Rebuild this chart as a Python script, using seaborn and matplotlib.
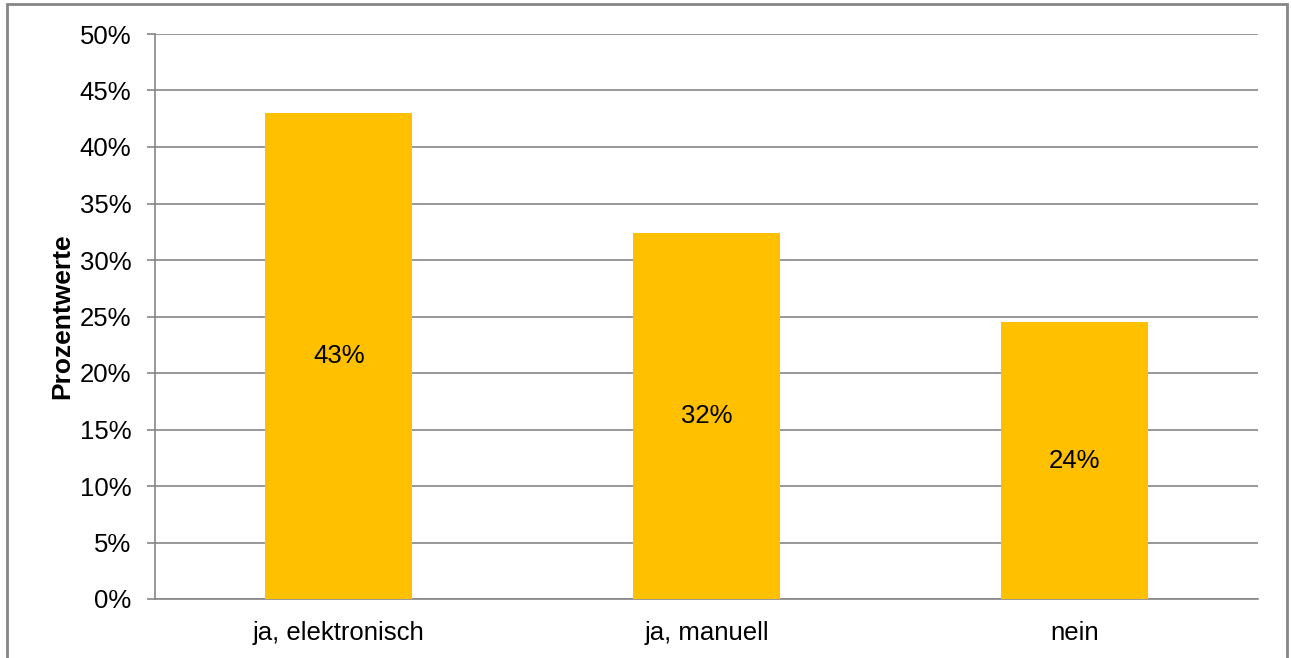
import matplotlib
matplotlib.use("Agg")
import matplotlib.pyplot as plt
import matplotlib.patches as mpatches
from matplotlib.ticker import MultipleLocator, FixedLocator, FuncFormatter
import seaborn as sns
import pandas as pd

# data
categories = ["ja, elektronisch", "ja, manuell", "nein"]
values = [43.0, 32.4, 24.5]
labels = ["43%", "32%", "24%"]

sns.set_style("white")
plt.rcParams['font.family'] = ['Liberation Sans', 'DejaVu Sans']
plt.rcParams['text.color'] = 'black'
plt.rcParams['xtick.labelcolor'] = 'black'
plt.rcParams['ytick.labelcolor'] = 'black'

df = pd.DataFrame({"Antwort": categories, "Prozent": values})

grey = "#868686"
fs = 18.5
fig = plt.figure(figsize=(12.91, 6.58), dpi=100)
ax = fig.add_axes([155 / 1291, 1 - 599 / 658, (1258 - 155) / 1291, (599 - 34) / 658])

sns.barplot(data=df, x="Antwort", y="Prozent", color="#FFC000", width=0.4,
            saturation=1, ax=ax, zorder=3, linewidth=0, edgecolor="none")

for i, txt in enumerate(labels):
    ax.text(i, values[i] / 2, txt, ha="center", va="center", fontsize=fs, color="black", zorder=4)

ax.set_xlim(-0.5, 2.5)
ax.set_ylim(0, 50)
ax.yaxis.set_major_locator(MultipleLocator(5))
ax.yaxis.set_major_formatter(FuncFormatter(lambda v, p: f"{int(round(v))}%"))
ax.grid(axis="y", color=grey, linewidth=1.2, zorder=0)
ax.set_axisbelow(True)

ax.xaxis.set_minor_locator(FixedLocator([-0.5, 0.5, 1.5, 2.5]))
ax.tick_params(axis="x", which="major", length=0, labelsize=fs, pad=16)
ax.tick_params(axis="x", which="minor", length=6, width=1.2, color=grey, direction="out")
ax.tick_params(axis="y", which="major", length=6, width=1.2, color=grey, direction="out",
               labelsize=fs, pad=11, left=True)

for s in ["top", "right"]:
    ax.spines[s].set_visible(False)
for s in ["left", "bottom"]:
    ax.spines[s].set_color(grey)
    ax.spines[s].set_linewidth(1.2)

ax.set_xlabel("")
ax.set_ylabel("Prozentwerte", fontsize=19, fontweight="bold", labelpad=4, color="black")

# outer frame of the chart area
frame = mpatches.Rectangle((7 / 1291, -0.05), (1287 - 7) / 1291, 1.05 - 4 / 658,
                           transform=fig.transFigure, fill=False, edgecolor=grey,
                           linewidth=2, zorder=10)
fig.patches.append(frame)

fig.savefig("out.png", dpi=100)
